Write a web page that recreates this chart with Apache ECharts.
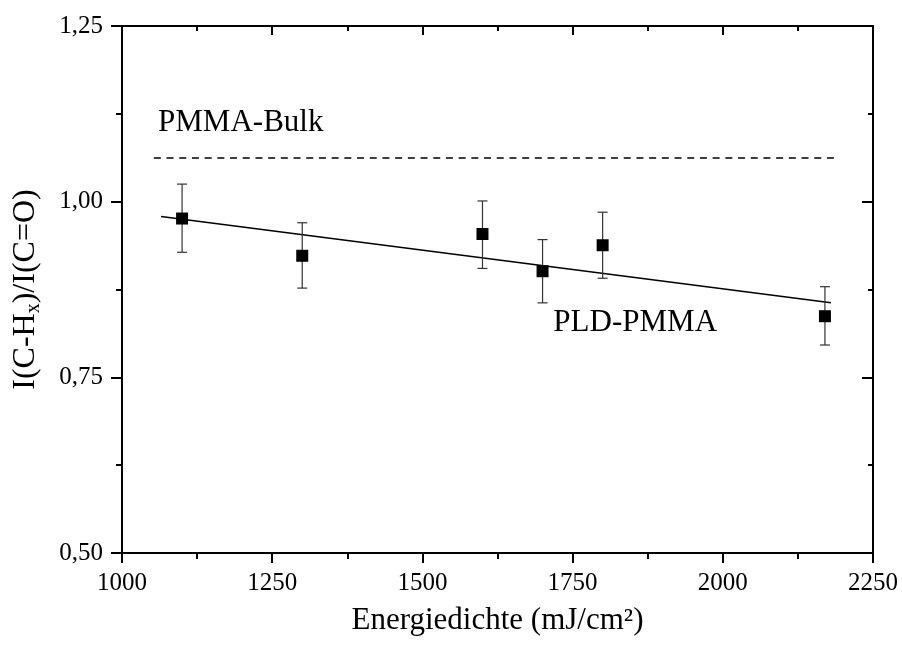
<!DOCTYPE html>
<html>
<head>
<meta charset="utf-8">
<script src="https://cdn.jsdelivr.net/npm/echarts@6/dist/echarts.min.js"></script>
<style>html,body{margin:0;padding:0;background:#fff}#c{width:902px;height:646px}</style>
</head>
<body>
<div id="c"></div>
<script>
// ---- data ----
const energy   = [1100, 1300, 1600, 1700, 1800, 2170];
const ratio    = [0.976, 0.923, 0.954, 0.901, 0.938, 0.837];
const errLow   = [0.928, 0.877, 0.905, 0.856, 0.891, 0.796];
const errHigh  = [1.025, 0.970, 1.001, 0.946, 0.985, 0.879];
const fitX     = [1065, 2180];
const fitY     = [0.979, 0.856];
const bulkX    = [1053, 2188];
const bulkY    = [1.062, 1.062];
const annotX   = [1060, 1718];
const annotY   = [1.112, 0.828];
const annotText = ['PMMA-Bulk', 'PLD-PMMA'];
const xTicks = [1000, 1250, 1500, 1750, 2000, 2250];
const yTicks = ['0,50', '0,75', '1,00', '1,25'];

const FONT = 'Liberation Serif';
const chart = echarts.init(document.getElementById('c'));

const axisCommon = {
  axisLine: {show: true, onZero: false, lineStyle: {color: '#000', width: 2}},
  splitLine: {show: false},
};

const option = {
  animation: false,
  backgroundColor: '#fff',
  grid: {left: 122, right: 29, top: 26, bottom: 93, containLabel: false, outerBoundsMode: 'none'},
  xAxis: [
    Object.assign({}, axisCommon, {
      type: 'value', position: 'bottom', min: 1000, max: 2250, interval: 250,
      axisTick: {show: true, inside: false, length: 10, lineStyle: {color: '#000', width: 2}},
      minorTick: {show: true, splitNumber: 2, length: 6, lineStyle: {color: '#000', width: 2}},
      axisLabel: {show: true, margin: 18, color: '#000', fontFamily: FONT, fontSize: 25,
        formatter: v => String(xTicks[xTicks.indexOf(v)] ?? v)},
      name: 'Energiedichte (mJ/cm²)', nameLocation: 'middle', nameGap: 52,
      nameTextStyle: {color: '#000', fontFamily: FONT, fontSize: 31}
    }),
    Object.assign({}, axisCommon, {
      type: 'value', position: 'top', min: 1000, max: 2250, interval: 250,
      axisTick: {show: true, inside: true, length: 9, lineStyle: {color: '#000', width: 2}},
      minorTick: {show: true, splitNumber: 2, length: 5, lineStyle: {color: '#000', width: 2}},
      axisLabel: {show: false}
    })
  ],
  yAxis: [
    Object.assign({}, axisCommon, {
      type: 'value', position: 'left', min: 0.5, max: 1.25, interval: 0.25,
      axisTick: {show: true, inside: false, length: 11, lineStyle: {color: '#000', width: 2}},
      minorTick: {show: true, splitNumber: 2, length: 6, lineStyle: {color: '#000', width: 2}},
      axisLabel: {show: true, margin: 19, color: '#000', fontFamily: FONT, fontSize: 25,
        formatter: v => yTicks[Math.round((v - 0.5) / 0.25)]},
      name: '{a|I(C-H}{s|x}{a|)/I(C=O)}', nameLocation: 'middle', nameGap: 78,
      nameTextStyle: {color: '#000', fontFamily: FONT, fontSize: 32,
        rich: {
          a: {fontFamily: FONT, fontSize: 32, color: '#000', lineHeight: 36},
          s: {fontFamily: FONT, fontSize: 20, color: '#000', verticalAlign: 'bottom', lineHeight: 36, padding: [13, 0, 0, 0]}
        }}
    }),
    Object.assign({}, axisCommon, {
      type: 'value', position: 'right', min: 0.5, max: 1.25, interval: 0.25,
      axisTick: {show: true, inside: true, length: 11, lineStyle: {color: '#000', width: 2}},
      minorTick: {show: true, splitNumber: 2, length: 5, lineStyle: {color: '#000', width: 2}},
      axisLabel: {show: false}
    })
  ],
  series: [
    {
      type: 'line', name: 'PMMA-Bulk', xAxisIndex: 0, yAxisIndex: 0,
      data: bulkX.map((x, i) => [x, bulkY[i]]),
      symbol: 'none', lineStyle: {color: '#000', width: 1.5, type: [7, 5.7]}, z: 2
    },
    {
      type: 'line', name: 'fit', xAxisIndex: 0, yAxisIndex: 0,
      data: fitX.map((x, i) => [x, fitY[i]]),
      symbol: 'none', lineStyle: {color: '#000', width: 1.5}, z: 2
    },
    {
      type: 'custom', name: 'errors', xAxisIndex: 0, yAxisIndex: 0,
      data: energy.map((x, i) => [x, errLow[i], errHigh[i]]),
      encode: {x: 0, y: [1, 2]},
      renderItem: function (params, api) {
        const x = api.value(0);
        const pLo = api.coord([x, api.value(1)]);
        const pHi = api.coord([x, api.value(2)]);
        const w = 5;
        const style = {stroke: '#333', lineWidth: 1.2, fill: null};
        return {type: 'group', children: [
          {type: 'line', shape: {x1: pLo[0], y1: pLo[1], x2: pHi[0], y2: pHi[1]}, style: style},
          {type: 'line', shape: {x1: pLo[0] - w, y1: pLo[1], x2: pLo[0] + w, y2: pLo[1]}, style: style},
          {type: 'line', shape: {x1: pHi[0] - w, y1: pHi[1], x2: pHi[0] + w, y2: pHi[1]}, style: style}
        ]};
      },
      z: 3
    },
    {
      type: 'scatter', name: 'PLD-PMMA', xAxisIndex: 0, yAxisIndex: 0,
      data: energy.map((x, i) => [x, ratio[i]]),
      symbol: 'rect', symbolSize: 12, itemStyle: {color: '#000', opacity: 1}, z: 4
    },
    {
      type: 'scatter', name: 'labels', xAxisIndex: 0, yAxisIndex: 0,
      data: annotX.map((x, i) => ({value: [x, annotY[i]], name: annotText[i]})),
      symbolSize: 0, silent: true, itemStyle: {opacity: 1},
      label: {show: true, position: 'right', distance: 0, formatter: p => p.name,
        color: '#000', opacity: 1, fontFamily: FONT, fontSize: 31},
      z: 5
    }
  ]
};
chart.setOption(option);
</script>
</body>
</html>
